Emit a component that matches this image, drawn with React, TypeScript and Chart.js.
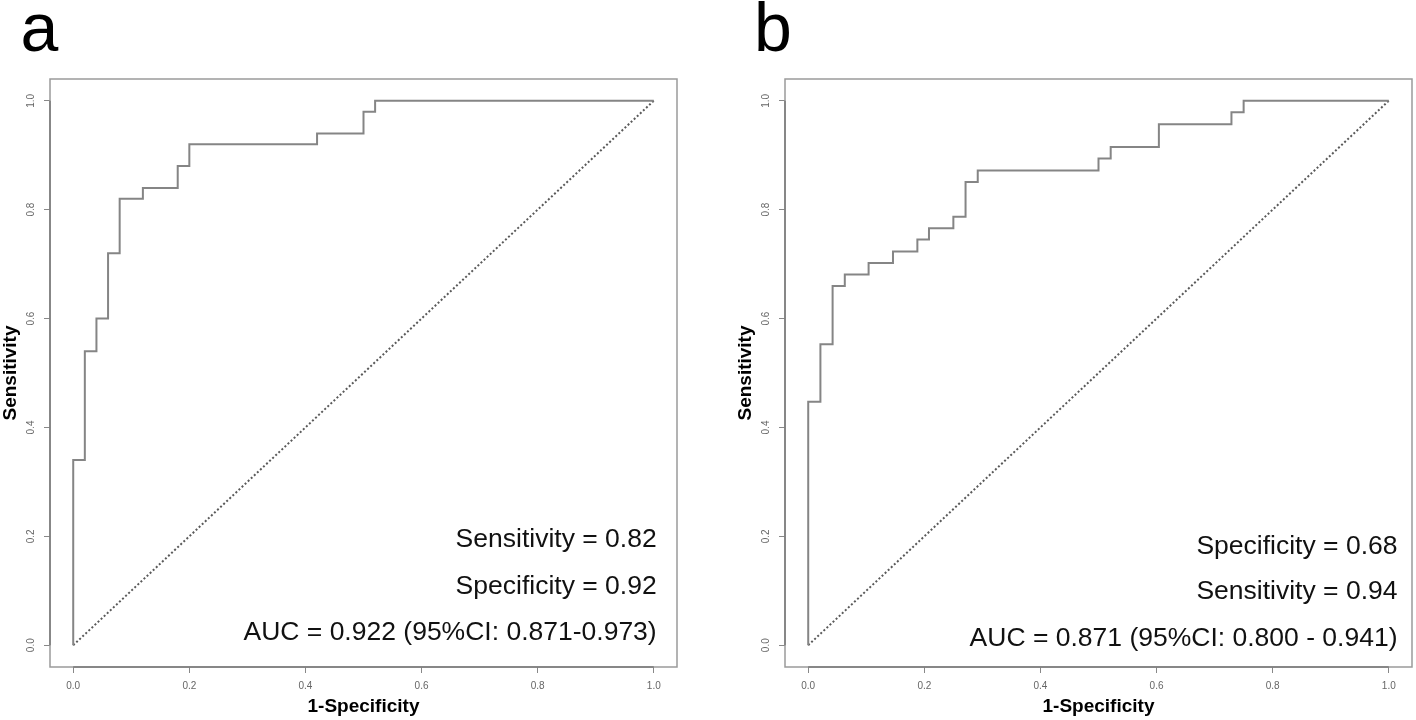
import React, { useEffect, useRef } from "react";
import { Chart, registerables } from "chart.js";

Chart.register(...registerables);

// ---------- data ----------
const tickValues = [0, 0.2, 0.4, 0.6, 0.8, 1.0];

// Panel a: ROC step points (1-specificity where the curve rises, new sensitivity)
const fprA = [0, 0, 0.02, 0.04, 0.06, 0.08, 0.12, 0.18, 0.2, 0.42, 0.5, 0.52, 1.0];
const sensA = [0, 0.34, 0.54, 0.6, 0.72, 0.82, 0.84, 0.88, 0.92, 0.94, 0.98, 1.0, 1.0];

// Panel b
const fprB = [0, 0, 0.021, 0.042, 0.063, 0.104, 0.146, 0.188, 0.208, 0.25, 0.271, 0.292, 0.5, 0.521, 0.604, 0.729, 0.75, 1.0];
const sensB = [0, 0.447, 0.553, 0.66, 0.681, 0.702, 0.723, 0.745, 0.766, 0.787, 0.851, 0.872, 0.894, 0.915, 0.957, 0.979, 1.0, 1.0];

// Chance line
const chanceX = [0, 1];
const chanceY = [0, 1];

const textA = ["Sensitivity = 0.82", "Specificity = 0.92", "AUC = 0.922 (95%CI: 0.871-0.973)"];
const textB = ["Specificity = 0.68", "Sensitivity = 0.94", "AUC = 0.871 (95%CI: 0.800 - 0.941)"];

const FONT = "'Liberation Sans', Arial, Helvetica, sans-serif";

const decorPlugin = {
  id: "decor",
  beforeDatasetsDraw(chart: any, _args: any, opts: any) {
    const { ctx, chartArea: ca, scales } = chart;
    ctx.save();
    ctx.strokeStyle = opts.boxColor;
    ctx.lineWidth = 1.5;
    ctx.strokeRect(ca.left, ca.top, ca.right - ca.left, ca.bottom - ca.top);
    // axis lines spanning the tick range (drawn over the box)
    ctx.strokeStyle = opts.axisColor;
    ctx.beginPath();
    ctx.moveTo(ca.left, scales.y.getPixelForValue(0));
    ctx.lineTo(ca.left, scales.y.getPixelForValue(1));
    ctx.moveTo(scales.x.getPixelForValue(0), ca.bottom);
    ctx.lineTo(scales.x.getPixelForValue(1), ca.bottom);
    ctx.stroke();
    ctx.restore();
  },
  afterDraw(chart: any, _args: any, opts: any) {
    const { ctx, scales } = chart;
    ctx.save();
    ctx.fillStyle = "#000";
    ctx.font = `68px ${FONT}`;
    ctx.textAlign = "left";
    ctx.textBaseline = "alphabetic";
    ctx.fillText(opts.letter, opts.letterX, opts.letterY);
    ctx.fillStyle = "#111";
    ctx.font = `26.5px ${FONT}`;
    ctx.textAlign = "right";
    const px = scales.x.getPixelForValue(opts.textX);
    opts.lines.forEach((t: string, i: number) => {
      ctx.fillText(t, px, scales.y.getPixelForValue(opts.textY[i]));
    });
    ctx.restore();
  },
};

function makeConfig(fpr: number[], sens: number[], p: any) {
  return {
    type: "line",
    data: {
      datasets: [
        {
          data: fpr.map((x, i) => ({ x, y: sens[i] })),
          stepped: "before",
          borderColor: "#858585",
          borderWidth: 2,
          pointRadius: 0,
          fill: false,
        },
        {
          data: chanceX.map((x, i) => ({ x, y: chanceY[i] })),
          borderColor: "#5a5a5a",
          borderWidth: 2,
          borderDash: [2, 2.2],
          pointRadius: 0,
          fill: false,
        },
      ],
    },
    options: {
      animation: false,
      responsive: false,
      maintainAspectRatio: false,
      layout: { padding: { left: p.padLeft, top: 79, right: p.padRight, bottom: 0 } },
      plugins: {
        legend: { display: false },
        tooltip: { enabled: false },
        decor: {
          boxColor: "#9a9a9a",
          axisColor: "#7a7a7a",
          letter: p.letter,
          letterX: p.letterX,
          letterY: 51,
          lines: p.lines,
          textX: p.textX,
          textY: p.textY,
        },
      },
      scales: {
        x: {
          type: "linear",
          min: -0.04,
          max: 1.04,
          afterBuildTicks: (s: any) => {
            s.ticks = tickValues.map((v) => ({ value: v }));
          },
          afterFit: (s: any) => {
            s.height = 53;
          },
          ticks: {
            font: { family: FONT, size: 10 },
            color: "#666",
            padding: 7.5,
            autoSkip: false,
            minRotation: 0,
            maxRotation: 0,
            callback: (v: any) => Number(v).toFixed(1),
          },
          grid: { drawOnChartArea: false, drawTicks: true, tickLength: 6, tickColor: "#888", tickWidth: 1 },
          border: { display: false },
          title: {
            display: true,
            text: "1-Specificity",
            color: "#000",
            font: { family: FONT, size: 19, weight: "bold", lineHeight: 1 },
            padding: { top: 0, bottom: 3.5 },
          },
        },
        y: {
          type: "linear",
          min: -0.04,
          max: 1.04,
          afterBuildTicks: (s: any) => {
            s.ticks = tickValues.map((v) => ({ value: v }));
          },
          afterFit: (s: any) => {
            s.width = 50;
          },
          ticks: {
            font: { family: FONT, size: 10 },
            color: "#666",
            padding: 5.5,
            autoSkip: false,
            minRotation: 90,
            maxRotation: 90,
            crossAlign: "center",
            callback: (v: any) => Number(v).toFixed(1),
          },
          grid: { drawOnChartArea: false, drawTicks: true, tickLength: 6, tickColor: "#888", tickWidth: 1 },
          border: { display: false },
          title: {
            display: true,
            text: "Sensitivity",
            color: "#000",
            font: { family: FONT, size: 19, weight: "bold", lineHeight: 1 },
            padding: { top: 1.5, bottom: 0 },
          },
        },
      },
    },
    plugins: [decorPlugin],
  };
}

function RocPanel({ left, config }: { left: number; config: any }) {
  const ref = useRef<HTMLCanvasElement | null>(null);
  useEffect(() => {
    if (!ref.current) return;
    const chart = new Chart(ref.current, config);
    return () => chart.destroy();
  }, []);
  return (
    <canvas
      ref={ref}
      width={708}
      height={720}
      style={{ position: "absolute", left, top: 0, width: 708, height: 720 }}
    />
  );
}

export default function App() {
  const cfgA = makeConfig(fprA, sensA, {
    padLeft: 0,
    padRight: 31,
    letter: "a",
    letterX: 20.5,
    lines: textA,
    textX: 1.005,
    textY: [0.18, 0.094, 0.009],
  });
  const cfgB = makeConfig(fprB, sensB, {
    padLeft: 27,
    padRight: 4,
    letter: "b",
    letterX: 46,
    lines: textB,
    textX: 1.015,
    textY: [0.167, 0.084, -0.001],
  });
  return (
    <div style={{ position: "absolute", left: 0, top: 0, width: 1416, height: 720, background: "#fff", overflow: "hidden" }}>
      <RocPanel left={0} config={cfgA} />
      <RocPanel left={708} config={cfgB} />
    </div>
  );
}
